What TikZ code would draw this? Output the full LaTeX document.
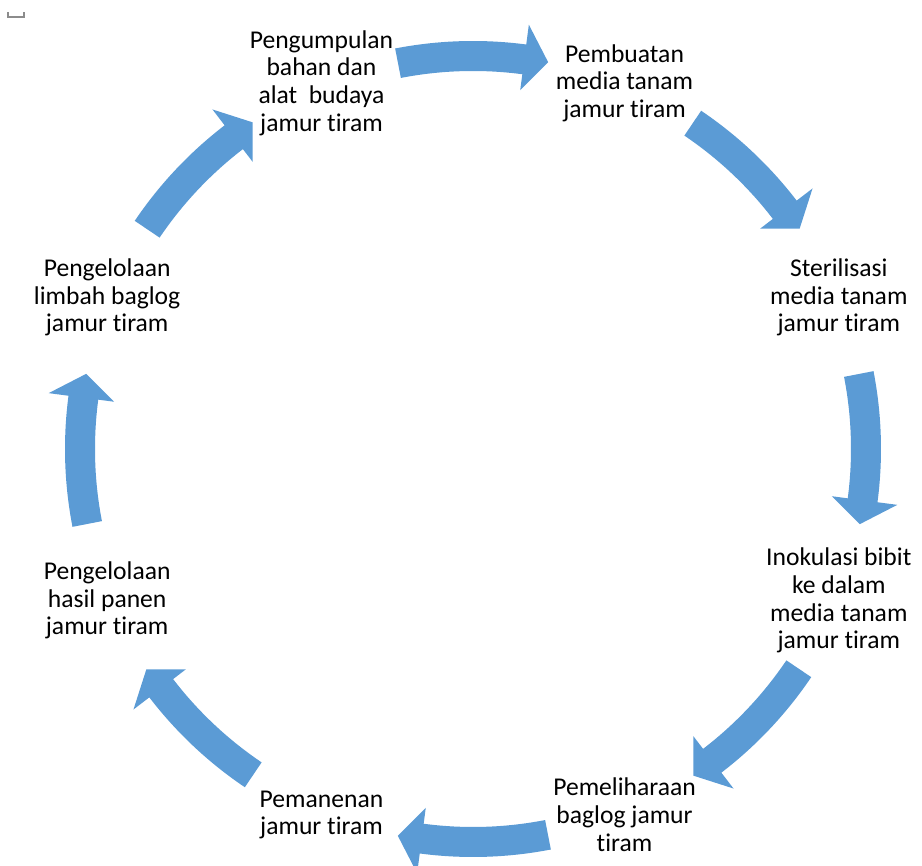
\documentclass[tikz,border=0pt]{standalone}
\usepackage{fontspec}
\setmainfont[Ligatures=NoCommon]{Carlito}
\definecolor{cycleblue}{RGB}{91,155,213}
\begin{document}
\begin{tikzpicture}[font=\fontsize{12.8}{13.85}\selectfont]
                \useasboundingbox (-236.5pt,-208.5pt) rectangle (224.5pt,224.5pt);
                \draw[black!45,line width=0.6pt] (-232.5pt,218.5pt) -- (-232.5pt,216pt) -- (-224.5pt,216pt) -- (-224.5pt,218.5pt);
                \foreach \a in {90,45,...,-225}{
                    \fill[cycleblue] ({\a+11}:189pt) arc[start angle=\a+11,end angle=\a-7.5,radius=189pt]
                        -- ({\a-7.5}:181pt) -- ({\a-11}:197pt) -- ({\a-7.5}:214pt) -- ({\a-7.5}:204pt)
                        arc[start angle=\a-7.5,end angle=\a+11,radius=204pt] -- cycle;
                }
                \foreach \txt [count=\i] in {{Pengumpulan\\bahan dan\\alat\ \ budaya\\jamur tiram},
                        {Pembuatan\\media tanam\\jamur tiram},
                        {Sterilisasi\\media tanam\\jamur tiram},
                        {Inokulasi bibit\\ke dalam\\media tanam\\jamur tiram},
                        {Pemeliharaan\\baglog jamur\\tiram},
                        {Pemanenan\\jamur tiram},
                        {Pengelolaan\\hasil panen\\jamur tiram},
                        {Pengelolaan\\limbah baglog\\jamur tiram}}{
                    \node[align=center] (n\i) at ({157.5-45*\i}:198pt) {\txt};
                }
            \end{tikzpicture}
\end{document}
